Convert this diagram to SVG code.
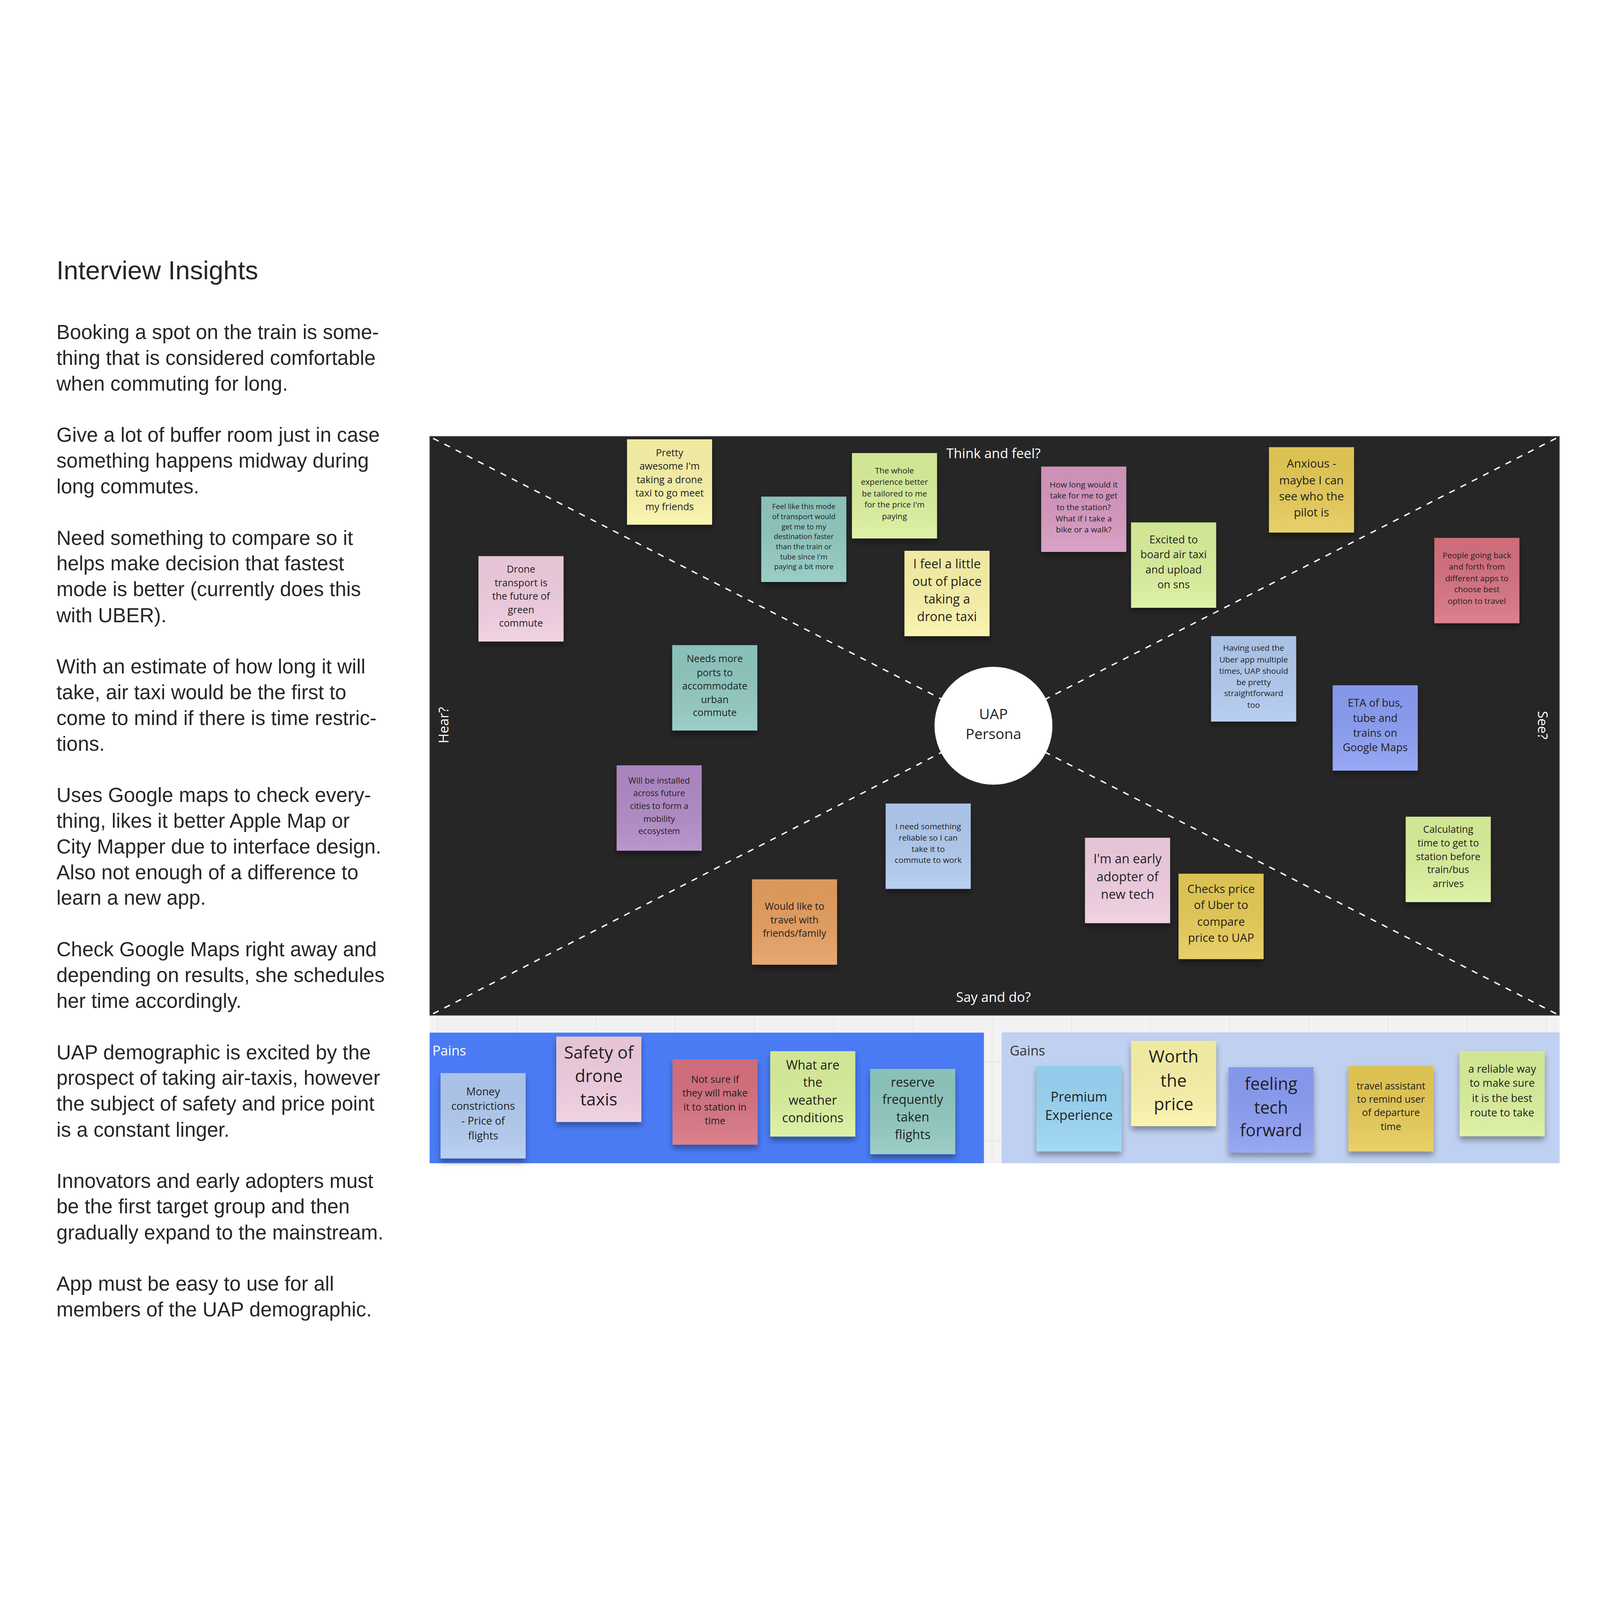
<svg xmlns="http://www.w3.org/2000/svg" width="5698" height="4133" viewBox="0 0 5698 4133">
<defs>
<style>
svg{width:100vw;height:100vh;}
.body{font-family:"Liberation Sans",Arial,Helvetica,sans-serif;font-size:72px;fill:#262626;}
.title{font-family:"Liberation Sans",Arial,Helvetica,sans-serif;font-size:93px;fill:#262626;}
.lbl{font-family:"Open Sans","Liberation Sans",sans-serif;font-size:48px;fill:#ffffff;}
.note text{font-family:"Open Sans","Liberation Sans",sans-serif;fill:#1f1f1f;text-anchor:middle;}
.note rect.s{filter:url(#shadow);}
.dash{stroke:#ffffff;stroke-width:5;stroke-dasharray:22 23;stroke-dashoffset:-14;fill:none;}
.grid{stroke:#e3e3e3;stroke-width:2;}
.yellow{fill:#faf3a8;} .pink{fill:#f0cde0;} .teal{fill:#8fc8c0;} .lime{fill:#daf09b;}
.magenta{fill:#d697bf;} .mustard{fill:#e6ca55;} .red{fill:#d6717f;} .lblue{fill:#b1caf0;}
.peri{fill:#8b9df4;} .purple{fill:#b08ac6;} .orange{fill:#e59e5e;} .sky{fill:#99d5f5;}
</style>
<filter id="shadow" x="-20%" y="-20%" width="140%" height="150%">
<feDropShadow dx="0" dy="14" stdDeviation="10" flood-color="#000" flood-opacity="0.35"/>
</filter>
<linearGradient id="sheen" x1="0" y1="0" x2="0" y2="1">
<stop offset="0" stop-color="#000" stop-opacity="0.04"/>
<stop offset="1" stop-color="#fff" stop-opacity="0.12"/>
</linearGradient>
</defs>
<rect x="0" y="0" width="5698" height="4133" fill="#ffffff"/>

<g id="insights">
<text class="title" x="201" y="212">Interview Insights</text>
<text class="body" x="201" y="425">Booking a spot on the train is some-</text>
<text class="body" x="201" y="517">thing that is considered comfortable</text>
<text class="body" x="201" y="608">when commuting for long.</text>
<text class="body" x="201" y="791">Give a lot of buffer room just in case</text>
<text class="body" x="201" y="883">something happens midway during</text>
<text class="body" x="201" y="974">long commutes.</text>
<text class="body" x="201" y="1158">Need something to compare so it</text>
<text class="body" x="201" y="1249">helps make decision that fastest</text>
<text class="body" x="201" y="1341">mode is better (currently does this</text>
<text class="body" x="201" y="1433">with UBER).</text>
<text class="body" x="201" y="1616">With an estimate of how long it will</text>
<text class="body" x="201" y="1707">take, air taxi would be the first to</text>
<text class="body" x="201" y="1799">come to mind if there is time restric-</text>
<text class="body" x="201" y="1891">tions.</text>
<text class="body" x="201" y="2074">Uses Google maps to check every-</text>
<text class="body" x="201" y="2165">thing, likes it better Apple Map or</text>
<text class="body" x="201" y="2257">City Mapper due to interface design.</text>
<text class="body" x="201" y="2349">Also not enough of a difference to</text>
<text class="body" x="201" y="2440">learn a new app.</text>
<text class="body" x="201" y="2623">Check Google Maps right away and</text>
<text class="body" x="201" y="2715">depending on results, she schedules</text>
<text class="body" x="201" y="2807">her time accordingly.</text>
<text class="body" x="201" y="2990">UAP demographic is excited by the</text>
<text class="body" x="201" y="3081">prospect of taking air-taxis, however</text>
<text class="body" x="201" y="3173">the subject of safety and price point</text>
<text class="body" x="201" y="3265">is a constant linger.</text>
<text class="body" x="201" y="3448">Innovators and early adopters must</text>
<text class="body" x="201" y="3539">be the first target group and then</text>
<text class="body" x="201" y="3631">gradually expand to the mainstream.</text>
<text class="body" x="201" y="3814">App must be easy to use for all</text>
<text class="body" x="201" y="3905">members of the UAP demographic.</text>
</g>

<g id="canvas-grid">
<rect x="1530" y="2834" width="4024" height="526" fill="#f2f2f2"/>
<line class="grid" x1="1530" y1="2999" x2="5554" y2="2999"/>
<line class="grid" x1="1530" y1="3281" x2="5554" y2="3281"/>
<line class="grid" x1="1559" y1="2834" x2="1559" y2="3360"/>
<line class="grid" x1="1841" y1="2834" x2="1841" y2="3360"/>
<line class="grid" x1="2123" y1="2834" x2="2123" y2="3360"/>
<line class="grid" x1="2405" y1="2834" x2="2405" y2="3360"/>
<line class="grid" x1="2687" y1="2834" x2="2687" y2="3360"/>
<line class="grid" x1="2969" y1="2834" x2="2969" y2="3360"/>
<line class="grid" x1="3251" y1="2834" x2="3251" y2="3360"/>
<line class="grid" x1="3533" y1="2834" x2="3533" y2="3360"/>
<line class="grid" x1="3815" y1="2834" x2="3815" y2="3360"/>
<line class="grid" x1="4097" y1="2834" x2="4097" y2="3360"/>
<line class="grid" x1="4379" y1="2834" x2="4379" y2="3360"/>
<line class="grid" x1="4661" y1="2834" x2="4661" y2="3360"/>
<line class="grid" x1="4943" y1="2834" x2="4943" y2="3360"/>
<line class="grid" x1="5225" y1="2834" x2="5225" y2="3360"/>
<line class="grid" x1="5507" y1="2834" x2="5507" y2="3360"/>
</g>

<g id="empathy-map">
<rect x="1530" y="771" width="4024" height="2063" fill="#262626" stroke="#8a8a8a" stroke-width="2"/>
<text class="lbl" x="3538" y="849" text-anchor="middle">Think and feel?</text>
<text class="lbl" x="3538" y="2786" text-anchor="middle">Say and do?</text>
<text class="lbl" transform="translate(1597 1800) rotate(-90)" text-anchor="middle">Hear?</text>
<text class="lbl" transform="translate(5477 1800) rotate(90)" text-anchor="middle">See?</text>
</g>

<g id="connectors">
<line class="dash" x1="1530" y1="772" x2="3538" y2="1802"/>
<line class="dash" x1="5554" y1="772" x2="3538" y2="1802"/>
<line class="dash" x1="1530" y1="2834" x2="3538" y2="1802"/>
<line class="dash" x1="5554" y1="2834" x2="3538" y2="1802"/>
</g>

<g id="persona">
<circle cx="3538" cy="1802" r="210" fill="#ffffff"/>
<text x="3538" y="1778" font-family="Open Sans, Liberation Sans, sans-serif" font-size="52" fill="#1f1f1f" text-anchor="middle">UAP</text>
<text x="3538" y="1850" font-family="Open Sans, Liberation Sans, sans-serif" font-size="52" fill="#1f1f1f" text-anchor="middle">Persona</text>
</g>

<g id="note-pretty" class="note"><rect class="s yellow" x="2233" y="782" width="303" height="304"/><rect x="2233" y="782" width="303" height="304" fill="url(#sheen)"/>
<text font-size="35"><tspan x="2384.5" y="843">Pretty</tspan><tspan x="2384.5" y="890">awesome I'm</tspan><tspan x="2384.5" y="938">taking a drone</tspan><tspan x="2384.5" y="986">taxi to go meet</tspan><tspan x="2384.5" y="1034">my friends</tspan></text></g>

<g id="note-drone" class="note"><rect class="s pink" x="1704" y="1198" width="303" height="304"/><rect x="1704" y="1198" width="303" height="304" fill="url(#sheen)"/>
<text font-size="35"><tspan x="1855.5" y="1257">Drone</tspan><tspan x="1855.5" y="1306">transport is</tspan><tspan x="1855.5" y="1353">the future of</tspan><tspan x="1855.5" y="1401">green</tspan><tspan x="1855.5" y="1449">commute</tspan></text></g>

<g id="note-ports" class="note"><rect class="s teal" x="2394" y="1515" width="303" height="304"/><rect x="2394" y="1515" width="303" height="304" fill="url(#sheen)"/>
<text font-size="35"><tspan x="2545.5" y="1576">Needs more</tspan><tspan x="2545.5" y="1625">ports to</tspan><tspan x="2545.5" y="1673">accommodate</tspan><tspan x="2545.5" y="1721">urban</tspan><tspan x="2545.5" y="1768">commute</tspan></text></g>

<g id="note-feel" class="note"><rect class="s teal" x="2711" y="986" width="303" height="304"/><rect x="2711" y="986" width="303" height="304" fill="url(#sheen)"/>
<text font-size="26"><tspan x="2862.5" y="1030">Feel like this mode</tspan><tspan x="2862.5" y="1067">of transport would</tspan><tspan x="2862.5" y="1102">get me to my</tspan><tspan x="2862.5" y="1137">destination faster</tspan><tspan x="2862.5" y="1173">than the train or</tspan><tspan x="2862.5" y="1209">tube since I'm</tspan><tspan x="2862.5" y="1244">paying a bit more</tspan></text></g>

<g id="note-whole" class="note"><rect class="s lime" x="3034" y="831" width="303" height="304"/><rect x="3034" y="831" width="303" height="304" fill="url(#sheen)"/>
<text font-size="29"><tspan x="3185.5" y="904">The whole</tspan><tspan x="3185.5" y="944">experience better</tspan><tspan x="3185.5" y="985">be tailored to me</tspan><tspan x="3185.5" y="1025">for the price I'm</tspan><tspan x="3185.5" y="1066">paying</tspan></text></g>

<g id="note-outofplace" class="note"><rect class="s yellow" x="3221" y="1179" width="303" height="304"/><rect x="3221" y="1179" width="303" height="304" fill="url(#sheen)"/>
<text font-size="45"><tspan x="3372.5" y="1241">I feel a little</tspan><tspan x="3372.5" y="1304">out of place</tspan><tspan x="3372.5" y="1367">taking a</tspan><tspan x="3372.5" y="1430">drone taxi</tspan></text></g>

<g id="note-howlong" class="note"><rect class="s magenta" x="3708" y="879" width="303" height="304"/><rect x="3708" y="879" width="303" height="304" fill="url(#sheen)"/>
<text font-size="29"><tspan x="3859.5" y="954">How long would it</tspan><tspan x="3859.5" y="993">take for me to get</tspan><tspan x="3859.5" y="1034">to the station?</tspan><tspan x="3859.5" y="1075">What if I take a</tspan><tspan x="3859.5" y="1114">bike or a walk?</tspan></text></g>

<g id="note-excited" class="note"><rect class="s lime" x="4028" y="1078" width="303" height="304"/><rect x="4028" y="1078" width="303" height="304" fill="url(#sheen)"/>
<text font-size="38"><tspan x="4179.5" y="1153">Excited to</tspan><tspan x="4179.5" y="1206">board air taxi</tspan><tspan x="4179.5" y="1260">and upload</tspan><tspan x="4179.5" y="1313">on sns</tspan></text></g>

<g id="note-anxious" class="note"><rect class="s mustard" x="4519" y="810" width="303" height="304"/><rect x="4519" y="810" width="303" height="304" fill="url(#sheen)"/>
<text font-size="41"><tspan x="4670.5" y="883">Anxious -</tspan><tspan x="4670.5" y="942">maybe I can</tspan><tspan x="4670.5" y="1000">see who the</tspan><tspan x="4670.5" y="1057">pilot is</tspan></text></g>

<g id="note-people" class="note"><rect class="s red" x="5108" y="1133" width="303" height="304"/><rect x="5108" y="1133" width="303" height="304" fill="url(#sheen)"/>
<text font-size="29"><tspan x="5259.5" y="1206">People going back</tspan><tspan x="5259.5" y="1246">and forth from</tspan><tspan x="5259.5" y="1287">different apps to</tspan><tspan x="5259.5" y="1327">choose best</tspan><tspan x="5259.5" y="1368">option to travel</tspan></text></g>

<g id="note-uber" class="note"><rect class="s lblue" x="4313" y="1483" width="303" height="304"/><rect x="4313" y="1483" width="303" height="304" fill="url(#sheen)"/>
<text font-size="29"><tspan x="4464.5" y="1535">Having used the</tspan><tspan x="4464.5" y="1577">Uber app multiple</tspan><tspan x="4464.5" y="1617">times, UAP should</tspan><tspan x="4464.5" y="1658">be pretty</tspan><tspan x="4464.5" y="1697">straightforward</tspan><tspan x="4464.5" y="1738">too</tspan></text></g>

<g id="note-eta" class="note"><rect class="s peri" x="4746" y="1658" width="303" height="304"/><rect x="4746" y="1658" width="303" height="304" fill="url(#sheen)"/>
<text font-size="38"><tspan x="4897.5" y="1734">ETA of bus,</tspan><tspan x="4897.5" y="1788">tube and</tspan><tspan x="4897.5" y="1841">trains on</tspan><tspan x="4897.5" y="1892">Google Maps</tspan></text></g>

<g id="note-installed" class="note"><rect class="s purple" x="2196" y="1943" width="303" height="304"/><rect x="2196" y="1943" width="303" height="304" fill="url(#sheen)"/>
<text font-size="30"><tspan x="2347.5" y="2008">Will be installed</tspan><tspan x="2347.5" y="2053">across future</tspan><tspan x="2347.5" y="2098">cities to form a</tspan><tspan x="2347.5" y="2144">mobility</tspan><tspan x="2347.5" y="2188">ecosystem</tspan></text></g>

<g id="note-friends" class="note"><rect class="s orange" x="2678" y="2349" width="303" height="304"/><rect x="2678" y="2349" width="303" height="304" fill="url(#sheen)"/>
<text font-size="35"><tspan x="2829.5" y="2458">Would like to</tspan><tspan x="2829.5" y="2506">travel with</tspan><tspan x="2829.5" y="2554">friends/family</tspan></text></g>

<g id="note-reliable" class="note"><rect class="s lblue" x="3154" y="2079" width="303" height="304"/><rect x="3154" y="2079" width="303" height="304" fill="url(#sheen)"/>
<text font-size="29"><tspan x="3305.5" y="2171">I need something</tspan><tspan x="3305.5" y="2211">reliable so I can</tspan><tspan x="3305.5" y="2252">take it to</tspan><tspan x="3305.5" y="2291">commute to work</tspan></text></g>

<g id="note-adopter" class="note"><rect class="s pink" x="3864" y="2201" width="303" height="304"/><rect x="3864" y="2201" width="303" height="304" fill="url(#sheen)"/>
<text font-size="45"><tspan x="4015.5" y="2292">I'm an early</tspan><tspan x="4015.5" y="2356">adopter of</tspan><tspan x="4015.5" y="2418">new tech</tspan></text></g>

<g id="note-checks" class="note"><rect class="s mustard" x="4197" y="2329" width="303" height="304"/><rect x="4197" y="2329" width="303" height="304" fill="url(#sheen)"/>
<text font-size="41"><tspan x="4348.5" y="2397">Checks price</tspan><tspan x="4348.5" y="2455">of Uber to</tspan><tspan x="4348.5" y="2514">compare</tspan><tspan x="4348.5" y="2571">price to UAP</tspan></text></g>

<g id="note-calculating" class="note"><rect class="s lime" x="5006" y="2126" width="303" height="304"/><rect x="5006" y="2126" width="303" height="304" fill="url(#sheen)"/>
<text font-size="35"><tspan x="5157.5" y="2184">Calculating</tspan><tspan x="5157.5" y="2232">time to get to</tspan><tspan x="5157.5" y="2281">station before</tspan><tspan x="5157.5" y="2327">train/bus</tspan><tspan x="5157.5" y="2377">arrives</tspan></text></g>

<g id="pains">
<rect x="1530" y="2895" width="1974" height="465" fill="#4a7bf5"/>
<text class="lbl" x="1540" y="2977">Pains</text>
</g>

<g id="gains">
<rect x="3567" y="2894" width="1987" height="466" fill="#c0d0f0"/>
<text class="lbl" x="3596" y="2976" style="fill:#333333">Gains</text>
</g>

<g id="pain-money" class="note"><rect class="s lblue" x="1569" y="3039" width="303" height="304"/><rect x="1569" y="3039" width="303" height="304" fill="url(#sheen)"/>
<text font-size="38"><tspan x="1720.5" y="3118">Money</tspan><tspan x="1720.5" y="3169">constrictions</tspan><tspan x="1720.5" y="3223">- Price of</tspan><tspan x="1720.5" y="3276">flights</tspan></text></g>

<g id="pain-safety" class="note"><rect class="s pink" x="1981" y="2909" width="303" height="304"/><rect x="1981" y="2909" width="303" height="304" fill="url(#sheen)"/>
<text font-size="61"><tspan x="2132.5" y="2987">Safety of</tspan><tspan x="2132.5" y="3071">drone</tspan><tspan x="2132.5" y="3155">taxis</tspan></text></g>

<g id="pain-time" class="note"><rect class="s red" x="2395" y="2990" width="303" height="304"/><rect x="2395" y="2990" width="303" height="304" fill="url(#sheen)"/>
<text font-size="35"><tspan x="2546.5" y="3073">Not sure if</tspan><tspan x="2546.5" y="3123">they will make</tspan><tspan x="2546.5" y="3173">it to station in</tspan><tspan x="2546.5" y="3221">time</tspan></text></g>

<g id="pain-weather" class="note"><rect class="s lime" x="2743" y="2961" width="303" height="304"/><rect x="2743" y="2961" width="303" height="304" fill="url(#sheen)"/>
<text font-size="45"><tspan x="2894.5" y="3026">What are</tspan><tspan x="2894.5" y="3088">the</tspan><tspan x="2894.5" y="3152">weather</tspan><tspan x="2894.5" y="3214">conditions</tspan></text></g>

<g id="pain-reserve" class="note"><rect class="s teal" x="3099" y="3024" width="303" height="304"/><rect x="3099" y="3024" width="303" height="304" fill="url(#sheen)"/>
<text font-size="45"><tspan x="3250.5" y="3087">reserve</tspan><tspan x="3250.5" y="3149">frequently</tspan><tspan x="3250.5" y="3212">taken</tspan><tspan x="3250.5" y="3274">flights</tspan></text></g>

<g id="gain-premium" class="note"><rect class="s sky" x="3691" y="3014" width="303" height="304"/><rect x="3691" y="3014" width="303" height="304" fill="url(#sheen)"/>
<text font-size="47"><tspan x="3842.5" y="3141">Premium</tspan><tspan x="3842.5" y="3206">Experience</tspan></text></g>

<g id="gain-worth" class="note"><rect class="s yellow" x="4028" y="2924" width="303" height="304"/><rect x="4028" y="2924" width="303" height="304" fill="url(#sheen)"/>
<text font-size="61"><tspan x="4179.5" y="3002">Worth</tspan><tspan x="4179.5" y="3087">the</tspan><tspan x="4179.5" y="3171">price</tspan></text></g>

<g id="gain-tech" class="note"><rect class="s peri" x="4375" y="3018" width="303" height="304"/><rect x="4375" y="3018" width="303" height="304" fill="url(#sheen)"/>
<text font-size="60"><tspan x="4526.5" y="3099">feeling</tspan><tspan x="4526.5" y="3183">tech</tspan><tspan x="4526.5" y="3264">forward</tspan></text></g>

<g id="gain-assistant" class="note"><rect class="s mustard" x="4802" y="3014" width="303" height="304"/><rect x="4802" y="3014" width="303" height="304" fill="url(#sheen)"/>
<text font-size="35"><tspan x="4953.5" y="3097">travel assistant</tspan><tspan x="4953.5" y="3145">to remind user</tspan><tspan x="4953.5" y="3192">of departure</tspan><tspan x="4953.5" y="3242">time</tspan></text></g>

<g id="gain-route" class="note"><rect class="s lime" x="5198" y="2960" width="303" height="304"/><rect x="5198" y="2960" width="303" height="304" fill="url(#sheen)"/>
<text font-size="38"><tspan x="5349.5" y="3037">a reliable way</tspan><tspan x="5349.5" y="3088">to make sure</tspan><tspan x="5349.5" y="3142">it is the best</tspan><tspan x="5349.5" y="3193">route to take</tspan></text></g>
</svg>
